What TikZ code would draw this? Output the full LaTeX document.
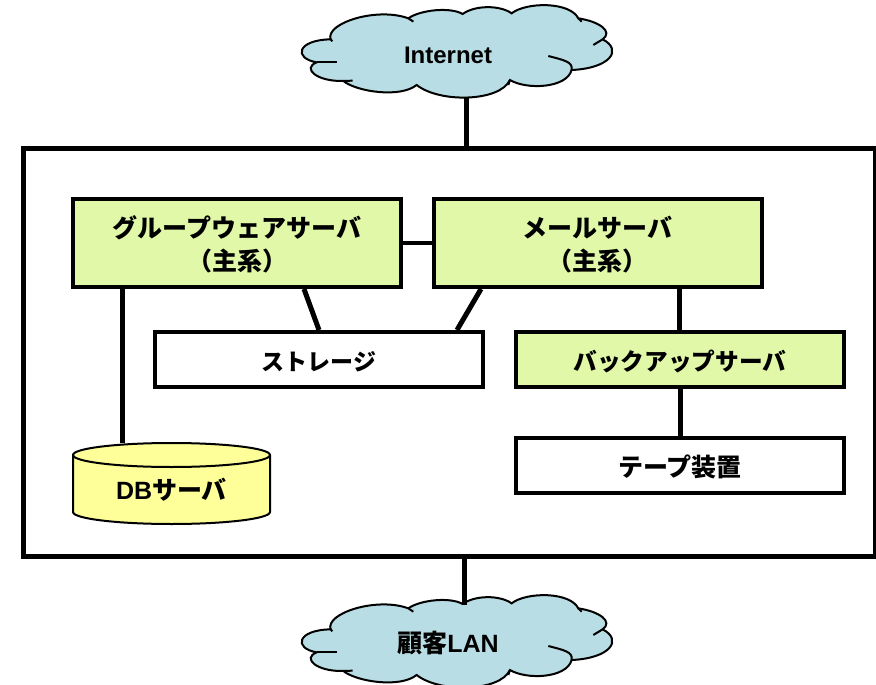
\documentclass[tikz,border=0pt]{standalone}
\usepackage{fontspec}
\setmainfont{Liberation Sans}
\newfontfamily\jpfont{Noto Sans CJK JP}
\newlength{\du}
\setlength{\du}{1pt}
\definecolor{cloudcolor}{rgb}{0.725, 0.867, 0.894}
\definecolor{servercolor}{rgb}{0.878, 0.973, 0.659}
\definecolor{dbcolor}{rgb}{1.000, 1.000, 0.600}
\newcommand{\jp}[1]{{\jpfont\bfseries #1}}
\newcommand{\textline}[1]{\smash{\raisebox{-11\du}{#1}}}
\tikzset{
  labeltext/.style={font=\fontsize{25\du}{33\du}\selectfont\bfseries, align=center, inner sep=0pt},
  narrowtext/.style={font=\fontsize{#1\du}{33\du}\selectfont\bfseries},
  serverbox/.style={labeltext, draw=black, line width=4\du, fill=servercolor, minimum width=328\du},
  plainbox/.style={labeltext, draw=black, line width=4\du, fill=white, minimum width=328\du},
  cloudtext/.style={labeltext, minimum width=300\du},
  wire/.style={draw=black, line width=5\du},
  cloudline/.style={draw=black, line width=2\du},
}
% one cloud, top lobe moved down by #1
\newcommand{\cloudshape}[1]{
\begin{scope}[shift={(280\du,#1\du)}, scale=0.3333]
\path[cloudline, fill=cloudcolor] (152\du,118\du)
  .. controls (135\du,70\du) and (290\du,20\du) .. (385\du,55\du)
  .. controls (420\du,30\du) and (510\du,20\du) .. (548\du,42\du)
  .. controls (585\du,15\du) and (660\du,15\du) .. (695\du,40\du)
  .. controls (740\du,5\du) and (870\du,5\du) .. (895\du,55\du)
  .. controls (960\du,65\du) and (1000\du,95\du) .. (968\du,118\du)
  .. controls (1030\du,150\du) and (990\du,205\du) .. (875\du,210\du)
  .. controls (860\du,265\du) and (740\du,270\du) .. (690\du,240\du)
  .. controls (660\du,305\du) and (480\du,310\du) .. (410\du,255\du)
  .. controls (360\du,295\du) and (230\du,275\du) .. (190\du,243\du)
  .. controls (110\du,245\du) and (65\du,205\du) .. (110\du,187\du)
  .. controls (40\du,175\du) and (50\du,120\du) .. (152\du,118\du)
  -- cycle;
\path[cloudline] (385\du,55\du)--(400\du,65\du);
\path[cloudline] (895\du,55\du)--(905\du,65\du);
\path[cloudline] (968\du,118\du)--(940\du,135\du);
\path[cloudline] (875\du,210\du) .. controls (880\du,185\du) and (850\du,180\du) .. (805\du,168\du);
\path[cloudline] (190\du,243\du)--(218\du,242\du);
\path[cloudline] (110\du,187\du)--(170\du,187\du);
\path[cloudline] (152\du,118\du)--(157\du,124\du);
\path[cloudline] (690\du,240\du)--(685\du,255\du);
\end{scope}
}

\begin{document}
\begin{tikzpicture}[yscale=-1]
\clip (0\du,0\du) rectangle (876\du,685\du);
\fill[white] (0\du,0\du) rectangle (876\du,685\du);
% clouds
\cloudshape{0}
\cloudshape{590}
\node[cloudtext, minimum height=90\du, narrowtext=24] (net) at (448\du,53\du){\textline{Internet}};
\node[cloudtext, minimum height=72\du] (lan) at (448\du,641\du){\textline{\jp{顧客}LAN}};
% frame
\node[draw=black, line width=5\du, minimum width=852\du, minimum height=408\du, inner sep=0pt] (frame) at (449\du,352\du){};
% servers
\node[serverbox, minimum height=88\du] (groupware) at (237\du,243\du){\textline{\jp{グループウェアサーバ}}\\\textline{\jp{（主系）}}};
\node[serverbox, minimum height=88\du] (mail) at (597.5\du,243\du){\textline{\jp{メールサーバ}}\\\textline{\jp{（主系）}}};
\node[plainbox, minimum height=55\du, narrowtext=23] (storage) at (319\du,359.5\du){\textline{\jp{ストレージ}}};
\node[serverbox, minimum height=55\du, narrowtext=23.7] (backup) at (680\du,359.5\du){\textline{\jp{バックアップサーバ}}};
\node[plainbox, minimum height=55\du] (tape) at (680\du,465.5\du){\textline{\jp{テープ装置}}};
% database drum
\path[cloudline, fill=dbcolor] (73\du,455\du) -- (73\du,512\du) arc[start angle=180, end angle=0, x radius=98.5\du, y radius=12\du] -- (270\du,455\du) arc[start angle=0, end angle=-180, x radius=98.5\du, y radius=12\du] -- cycle;
\path[cloudline] (73\du,455\du) arc[start angle=180, end angle=0, x radius=98.5\du, y radius=12\du];
\node[labeltext, minimum width=197\du, minimum height=90\du] (db) at (171.5\du,488\du){\textline{DB\jp{サーバ}}};
% wires
\draw[wire] ([xshift=18\du]net.south) -- ([xshift=17\du]frame.north);
\draw[wire] ([xshift=15\du]frame.south) -- ([xshift=16\du]lan.north);
\draw[wire, line width=4.5\du] (groupware.east) -- (mail.west);
\draw[wire] ([xshift=-49.5\du]groupware.south -| db.north) -- ([xshift=-49.5\du]db.north);
\draw[wire] ([xshift=67\du]groupware.south) -- (storage.north);
\draw[wire] ([xshift=-116.5\du]mail.south) -- ([xshift=138\du]storage.north);
\draw[wire] ([xshift=-1\du]mail.south -| backup.north) -- ([xshift=-1\du]backup.north);
\draw[wire] (backup.south) -- (tape.north);
\end{tikzpicture}
\end{document}
